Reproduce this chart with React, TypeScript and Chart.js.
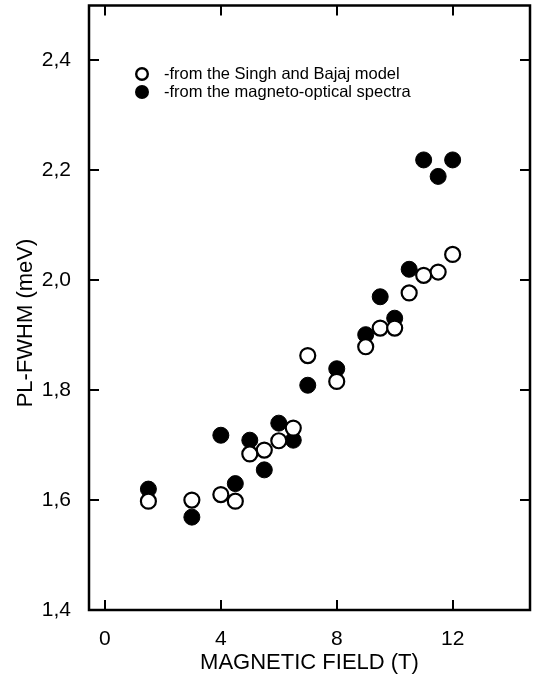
import React, { useEffect, useRef } from "react";
import { Chart, registerables } from "chart.js";

Chart.register(...registerables);

const FIELD = [1.5, 3, 4, 4.5, 5, 5.5, 6, 6.5, 7, 8, 9, 9.5, 10, 10.5, 11, 11.5, 12];
const MODEL_FWHM = [1.598, 1.6, 1.61, 1.598, 1.684, 1.691, 1.708, 1.731, 1.863, 1.816, 1.879, 1.913, 1.913, 1.977, 2.009, 2.015, 2.047];
const SPECTRA_FWHM = [1.62, 1.569, 1.718, 1.63, 1.709, 1.655, 1.74, 1.709, 1.809, 1.839, 1.901, 1.97, 1.931, 2.02, 2.219, 2.189, 2.219];
const X_TICKS = [0, 4, 8, 12];
const Y_TICKS = [1.4, 1.6, 1.8, 2.0, 2.2, 2.4];
const LEGEND_LABELS = ["-from the Singh and Bajaj model", "-from the magneto-optical spectra"];
const X_TITLE = "MAGNETIC FIELD (T)";
const Y_TITLE = "PL-FWHM (meV)";

const FONT = '"Liberation Sans", Arial, Helvetica, sans-serif';

const framePlugin = {
  id: "frame",
  afterDraw(chart: any) {
    const { ctx, chartArea } = chart;
    const { left, right, top, bottom } = chartArea;
    const xs = chart.scales.x;
    const ys = chart.scales.y;
    ctx.save();
    ctx.strokeStyle = "#000";
    ctx.lineWidth = 2.5;
    ctx.strokeRect(left, top, right - left, bottom - top);
    ctx.lineWidth = 2;
    const tl = 10;
    ctx.beginPath();
    X_TICKS.forEach((v) => {
      const px = Math.round(xs.getPixelForValue(v));
      ctx.moveTo(px, bottom);
      ctx.lineTo(px, bottom - tl);
      ctx.moveTo(px, top);
      ctx.lineTo(px, top + tl);
    });
    Y_TICKS.forEach((v) => {
      const py = Math.round(ys.getPixelForValue(v));
      ctx.moveTo(left, py);
      ctx.lineTo(left + tl, py);
      ctx.moveTo(right, py);
      ctx.lineTo(right - tl, py);
    });
    ctx.stroke();

    // legend
    const lx = 142;
    const ly = [74, 92];
    ctx.font = `16.5px ${FONT}`;
    ctx.textBaseline = "middle";
    ctx.textAlign = "left";
    ly.forEach((y, i) => {
      ctx.beginPath();
      ctx.arc(lx, y, i === 0 ? 5.8 : 7, 0, Math.PI * 2);
      if (i === 0) {
        ctx.fillStyle = "#fff";
        ctx.fill();
        ctx.lineWidth = 2.4;
        ctx.strokeStyle = "#000";
        ctx.stroke();
      } else {
        ctx.fillStyle = "#000";
        ctx.fill();
      }
      ctx.fillStyle = "#000";
      ctx.fillText(LEGEND_LABELS[i], 164, y);
    });

    // axis titles
    ctx.font = `22px ${FONT}`;
    ctx.textAlign = "center";
    ctx.textBaseline = "middle";
    ctx.fillText(X_TITLE, (left + right) / 2, 663);
    ctx.save();
    ctx.translate(26, 323);
    ctx.rotate(-Math.PI / 2);
    ctx.fillText(Y_TITLE, 0, 0);
    ctx.restore();
    ctx.restore();
  },
};

const zeroPad = (s: any) => {
  s.paddingTop = 0;
  s.paddingBottom = 0;
  s.paddingLeft = 0;
  s.paddingRight = 0;
};

export default function App() {
  const ref = useRef<HTMLCanvasElement>(null);
  useEffect(() => {
    if (!ref.current) return;
    const chart = new Chart(ref.current, {
      type: "scatter",
      data: {
        datasets: [
          {
            label: LEGEND_LABELS[0],
            data: FIELD.map((x, i) => ({ x, y: MODEL_FWHM[i] })),
            backgroundColor: "#fff",
            borderColor: "#000",
            borderWidth: 2.2,
            pointRadius: 7.5,
          },
          {
            label: LEGEND_LABELS[1],
            data: FIELD.map((x, i) => ({ x, y: SPECTRA_FWHM[i] })),
            backgroundColor: "#000",
            borderColor: "#000",
            borderWidth: 1,
            pointRadius: 8,
          },
        ],
      },
      options: {
        animation: false,
        responsive: false,
        layout: { autoPadding: false, padding: { top: 5.5, right: 6, left: 0, bottom: 0 } },
        plugins: { legend: { display: false }, tooltip: { enabled: false } },
        scales: {
          x: {
            type: "linear",
            min: -0.55,
            max: 14.67,
            afterBuildTicks: (s: any) => {
              s.ticks = X_TICKS.map((v) => ({ value: v }));
            },
            afterFit: (s: any) => {
              s.height = 71;
              zeroPad(s);
            },
            grid: { display: false },
            border: { display: false },
            ticks: {
              color: "#000",
              font: { family: FONT, size: 21 },
              padding: 9,
              maxRotation: 0,
              autoSkip: false,
              callback: (v: any) => String(v),
            },
          },
          y: {
            type: "linear",
            min: 1.4,
            max: 2.5,
            afterBuildTicks: (s: any) => {
              s.ticks = Y_TICKS.map((v) => ({ value: v }));
            },
            afterFit: (s: any) => {
              s.width = 89;
              zeroPad(s);
            },
            grid: { display: false },
            border: { display: false },
            ticks: {
              color: "#000",
              font: { family: FONT, size: 21 },
              padding: 10,
              autoSkip: false,
              callback: (v: any) => Number(v).toFixed(1).replace(".", ","),
            },
          },
        },
      },
      plugins: [framePlugin],
    });
    return () => chart.destroy();
  }, []);
  return (
    <div style={{ position: "absolute", left: 0, top: 0, width: 536, height: 681, background: "#fff" }}>
      <canvas ref={ref} width={536} height={681} />
    </div>
  );
}
